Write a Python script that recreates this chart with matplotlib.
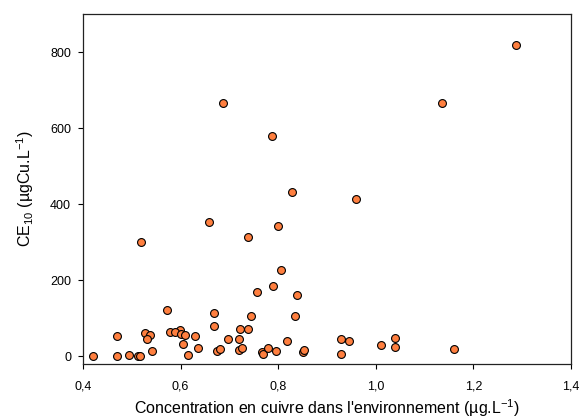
import matplotlib
matplotlib.use("Agg")
import matplotlib.pyplot as plt
from matplotlib.ticker import FuncFormatter

plt.rcParams['font.family'] = ['Liberation Sans', 'DejaVu Sans']
plt.rcParams['mathtext.default'] = 'regular'

cu_env = [1.288, 1.136, 0.686, 0.788, 0.828, 0.960, 0.658, 0.799, 0.739, 0.518,
          0.805, 0.789, 0.757, 0.839, 0.573, 0.669, 0.745, 0.834, 0.668, 0.721,
          0.739, 0.598, 0.469, 0.528, 0.538, 0.531, 0.578, 0.589, 0.600, 0.608,
          0.629, 0.605, 0.698, 0.719, 0.719, 0.725, 0.635, 0.542, 0.616, 0.674,
          0.680, 0.767, 0.768, 0.780, 0.795, 0.819, 0.850, 0.853, 0.929, 0.945,
          0.929, 1.011, 1.040, 1.040, 1.160, 0.421, 0.469, 0.495, 0.513, 0.516]
ce10 = [818, 667, 667, 579, 431, 413, 354, 344, 314, 300,
        227, 186, 168, 162, 123, 114, 106, 105, 81, 72,
        71, 70, 53, 62, 55, 45, 63, 63, 60, 55,
        53, 33, 46, 45, 18, 21, 22, 13, 3, 13,
        20, 11, 7, 21, 13, 40, 12, 17, 47, 40,
        5, 29, 48, 24, 19, 0, 0, 3, 2, 1]

x_ticks = [0.4, 0.6, 0.8, 1.0, 1.2, 1.4]
y_ticks = [0, 200, 400, 600, 800]

fig = plt.figure(figsize=(5.81, 4.18), dpi=100)
ax = fig.add_axes([0.1429, 0.1292, 0.8399, 0.8373])
ax.scatter(cu_env, ce10, s=32, facecolor='#FF7F3F', edgecolor='black',
           linewidth=0.8, zorder=3, clip_on=False)
ax.set_xlim(0.4, 1.4)
ax.set_ylim(-20, 900)
ax.set_xticks(x_ticks)
ax.set_yticks(y_ticks)
ax.xaxis.set_major_formatter(FuncFormatter(lambda v, p: f"{v:.1f}".replace('.', ',')))
ax.yaxis.set_major_formatter(FuncFormatter(lambda v, p: f"{int(v)}"))
ax.tick_params(axis='both', direction='out', length=3.6, width=0.8, labelsize=9,
               top=False, right=False)
ax.tick_params(axis='x', pad=8)
ax.tick_params(axis='y', pad=5)
for sp in ax.spines.values():
    sp.set_linewidth(0.9)
    sp.set_color('#222222')
ax.set_xlabel("Concentration en cuivre dans l'environnement (µg.L$^{-1}$)", fontsize=11.5, labelpad=4)
ax.set_ylabel("CE$_{10}$ (µgCu.L$^{-1}$)", fontsize=11.5, labelpad=10)
fig.savefig("out.png", dpi=100)
